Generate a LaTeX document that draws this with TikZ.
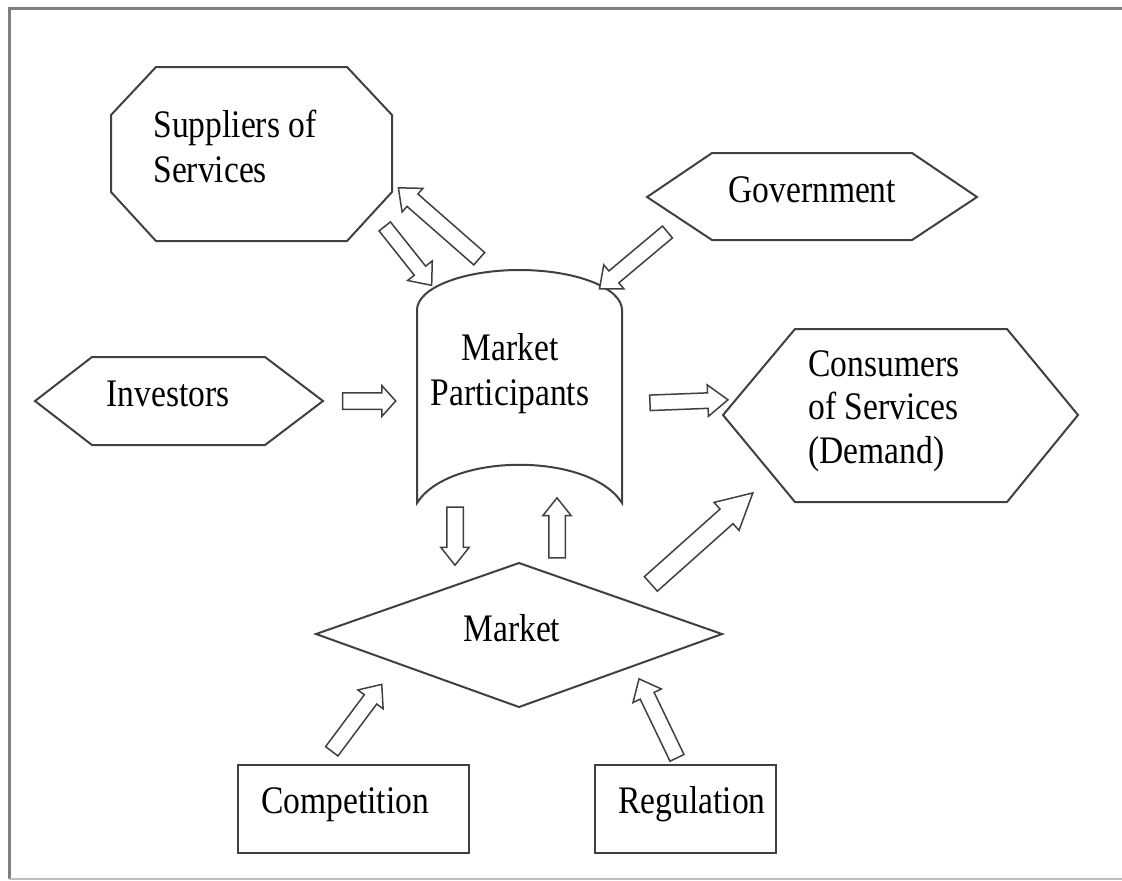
\documentclass[tikz,border=0pt]{standalone}
\usepackage{fontspec}
\setmainfont{Liberation Serif}[FakeStretch=0.86]
\usetikzlibrary{calc,shapes.arrows}
\definecolor{edge}{gray}{0.25}
\newcommand{\barrow}[3][]{\path let \p1=($(#3)-(#2)$) in node[blk,#1,rotate={atan2(\y1,\x1)},minimum height={veclen(\x1,\y1)}] at ($(#2)!.5!(#3)$) {};}

\begin{document}
\begin{tikzpicture}[x=0.5pt,y=-0.5pt,
	lbl/.style={anchor=base west,inner sep=0,font=\fontsize{19.5}{22.5}\selectfont,align=left},
	shp/.style={draw=edge,line width=1pt},
	blk/.style={single arrow,draw=edge,fill=white,line width=0.75pt,inner xsep=0,inner ysep=3.5pt,minimum width=0pt,single arrow head extend=4pt,single arrow tip angle=80}]
	\useasboundingbox (0,0) rectangle (1122,880);
	\draw[gray,line width=1.5pt] (1122,8) -- (9,8) -- (9,879);
	\draw[gray!50,line width=1pt] (9,879) -- (1122,879);
	
	\draw[shp] (156,67) -- (347,67) -- (392,115) -- (392,192) -- (347,241) -- (156,241) -- (111,192) -- (111,115) -- cycle;
	\draw[shp] (712,153) -- (912,153) -- (977,197) -- (912,240) -- (712,240) -- (647,197) -- cycle;
	\draw[shp] (92,357) -- (265,357) -- (323,401) -- (265,445) -- (92,445) -- (35,401) -- cycle;
	\draw[shp] (795,329) -- (1007,329) -- (1078,415) -- (1007,502) -- (795,502) -- (723,415) -- cycle;
	\draw[shp] (417,503) -- (417,310) .. controls (417,288) and (463,270) .. (519.5,270) .. controls (576,270) and (622,288) .. (622,310) -- (622,503) .. controls (590,452) and (449,452) .. (417,503) -- cycle;
	\draw[shp] (316,634) -- (519,563) -- (722,634) -- (519,707) -- cycle;
	\draw[shp] (238,765) rectangle (469,853);
	\draw[shp] (595,765) rectangle (776,853);
	
	% multi-line labels sit on their last baseline
	\node[lbl] (sup) at (153,182) {Suppliers of\\Services};
	\node[lbl] (gov) at (728,202) {Government};
	\node[lbl] (inv) at (106,406) {Investors};
	\node[lbl,align=center,anchor=base] (mp) at (510,405) {Market\\Participants};
	\node[lbl,font=\fontsize{19.5}{21.7}\selectfont] (con) at (808,463) {Consumers\\of Services\\(Demand)};
	\node[lbl] (mkt) at (463,641) {Market};
	\node[lbl] (comp) at (261,813) {Competition};
	\node[lbl] (reg) at (618,813) {Regulation};
	
	% ends of the block arrows
	\coordinate (sa) at (382,223); \coordinate (ma) at (429,282);
	\coordinate (mb) at (483,262); \coordinate (sb) at (402,191);
	\coordinate (ga) at (671,229); \coordinate (mc) at (603,286);
	\coordinate (ia) at (339,401); \coordinate (md) at (392,401);
	\coordinate (me) at (645,403); \coordinate (ca) at (723,400);
	\coordinate (mf) at (455,502); \coordinate (ka) at (455,560);
	\coordinate (kb) at (557,563); \coordinate (mg) at (557,503);
	\coordinate (kc) at (644,590); \coordinate (cb) at (746,499);
	\coordinate (pa) at (329,755); \coordinate (kd) at (379,688);
	\coordinate (ra) at (679,762); \coordinate (ke) at (641,683);
	
	\barrow[inner ysep=3.25pt,single arrow head extend=4.25pt]{sa}{ma}
	\barrow[inner ysep=3.75pt,single arrow head extend=3.75pt]{mb}{sb}
	\barrow{ga}{mc}
	\barrow[inner ysep=3.75pt,single arrow head extend=3.5pt,single arrow tip angle=96]{ia}{md}
	\barrow[single arrow tip angle=76]{me}{ca}
	\barrow[inner ysep=3.75pt,single arrow head extend=3pt,single arrow tip angle=77]{mf}{ka}
	\barrow[inner ysep=3.75pt,single arrow head extend=3pt,single arrow tip angle=77]{kb}{mg}
	\barrow[inner ysep=4.5pt,single arrow head extend=4.5pt,single arrow tip angle=56]{kc}{cb}
	\barrow{pa}{kd}
	\barrow{ra}{ke}
\end{tikzpicture}
\end{document}
